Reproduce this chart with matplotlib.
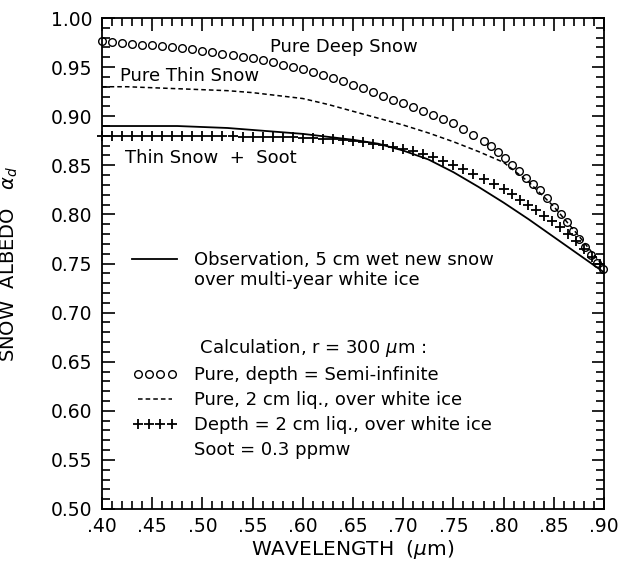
import numpy as np
import matplotlib.pyplot as plt
from matplotlib.lines import Line2D
from matplotlib.ticker import MultipleLocator, FuncFormatter

# observation, 5 cm wet new snow (solid line)
obs_wl = [0.400, 0.425, 0.450, 0.475, 0.500, 0.525, 0.550, 0.575, 0.600, 0.625, 0.650,
          0.675, 0.700, 0.725, 0.750, 0.775, 0.800, 0.825, 0.850, 0.875, 0.900]
obs_alb = [0.890, 0.890, 0.890, 0.890, 0.889, 0.888, 0.886, 0.884, 0.882, 0.879, 0.876,
           0.872, 0.865, 0.856, 0.843, 0.828, 0.812, 0.795, 0.777, 0.759, 0.741]

# pure thin snow, 2 cm liq. over white ice (dashed)
thin_wl = [0.400, 0.425, 0.450, 0.475, 0.500, 0.525, 0.550, 0.575, 0.600, 0.625, 0.650,
           0.675, 0.700, 0.725, 0.750, 0.775, 0.800, 0.825, 0.850, 0.875, 0.900]
thin_alb = [0.930, 0.930, 0.929, 0.928, 0.927, 0.926, 0.924, 0.921, 0.918, 0.912, 0.905,
            0.898, 0.891, 0.883, 0.874, 0.864, 0.853, 0.833, 0.808, 0.778, 0.746]

# pure deep snow, semi-infinite (circles)
deep_wl = [0.40, 0.41, 0.42, 0.43, 0.44, 0.45, 0.46, 0.47, 0.48, 0.49,
           0.50, 0.51, 0.52, 0.53, 0.54, 0.55, 0.56, 0.57, 0.58, 0.59,
           0.60, 0.61, 0.62, 0.63, 0.64, 0.65, 0.66, 0.67, 0.68, 0.69,
           0.70, 0.71, 0.72, 0.73, 0.74, 0.75, 0.76, 0.77, 0.78, 0.787,
           0.794, 0.801, 0.808, 0.815, 0.822, 0.829, 0.836, 0.843, 0.850, 0.857,
           0.863, 0.869, 0.875, 0.881, 0.887, 0.893, 0.899]
deep_alb = [0.977, 0.976, 0.975, 0.974, 0.973, 0.972, 0.971, 0.970, 0.969, 0.968,
            0.966, 0.965, 0.963, 0.962, 0.960, 0.959, 0.957, 0.955, 0.952, 0.950,
            0.948, 0.945, 0.942, 0.939, 0.936, 0.932, 0.929, 0.925, 0.921, 0.917,
            0.913, 0.909, 0.905, 0.901, 0.897, 0.893, 0.887, 0.881, 0.875, 0.870,
            0.864, 0.857, 0.850, 0.844, 0.837, 0.831, 0.825, 0.817, 0.808, 0.800,
            0.792, 0.783, 0.775, 0.767, 0.759, 0.751, 0.744]

# thin snow + soot 0.3 ppmw (pluses)
soot_wl = [0.40, 0.41, 0.42, 0.43, 0.44, 0.45, 0.46, 0.47, 0.48, 0.49,
           0.50, 0.51, 0.52, 0.53, 0.54, 0.55, 0.56, 0.57, 0.58, 0.59,
           0.60, 0.61, 0.62, 0.63, 0.64, 0.65, 0.66, 0.67, 0.68, 0.69,
           0.70, 0.71, 0.72, 0.73, 0.74, 0.75, 0.76, 0.77, 0.78, 0.79,
           0.80, 0.808, 0.816, 0.824, 0.832, 0.840, 0.848, 0.856, 0.864, 0.872,
           0.880, 0.888, 0.896]
soot_alb = [0.880, 0.880, 0.880, 0.880, 0.880, 0.880, 0.880, 0.880, 0.880, 0.880,
            0.880, 0.880, 0.880, 0.880, 0.879, 0.879, 0.879, 0.879, 0.879, 0.879,
            0.878, 0.878, 0.877, 0.877, 0.876, 0.875, 0.874, 0.872, 0.871, 0.869,
            0.867, 0.865, 0.862, 0.858, 0.854, 0.850, 0.846, 0.841, 0.836, 0.831,
            0.826, 0.821, 0.815, 0.810, 0.804, 0.798, 0.793, 0.787, 0.780, 0.773,
            0.765, 0.757, 0.749]

plt.rcParams['font.family'] = 'DejaVu Sans'
plt.rcParams['font.size'] = 13
plt.rcParams['mathtext.fontset'] = 'dejavusans'

fig = plt.figure(figsize=(6.22, 5.70), dpi=100)
ax = fig.add_axes([102 / 622, 61 / 570, 502 / 622, 491 / 570])

obs_line, = ax.plot(obs_wl, obs_alb, color='black', lw=1.3)
thin_line, = ax.plot(thin_wl, thin_alb, color='black', lw=1.1, ls=(0, (3, 2)))
deep_pts, = ax.plot(deep_wl, deep_alb, ls='none', marker='o', ms=5.5, mfc='none',
                    mec='black', mew=1.0, clip_on=False)
soot_pts, = ax.plot(soot_wl, soot_alb, ls='none', marker='+', ms=6.5, mec='black',
                    mew=1.3, clip_on=False)

ax.set_xlim(0.40, 0.90)
ax.set_ylim(0.50, 1.00)
ax.xaxis.set_major_locator(MultipleLocator(0.05))
ax.xaxis.set_minor_locator(MultipleLocator(0.01))
ax.yaxis.set_major_locator(MultipleLocator(0.05))
ax.yaxis.set_minor_locator(MultipleLocator(0.01))
ax.xaxis.set_major_formatter(FuncFormatter(lambda v, p: f'{v:.2f}'[1:]))
ax.yaxis.set_major_formatter(FuncFormatter(lambda v, p: f'{v:.2f}'))
ax.tick_params(which='both', direction='in', top=True, right=True, width=1.2)
ax.tick_params(which='major', length=9, labelsize=13.5)
ax.tick_params(axis='y', which='major', pad=7)
ax.tick_params(axis='x', which='major', pad=6)
ax.tick_params(which='minor', length=5.5)
for s in ax.spines.values():
    s.set_linewidth(1.3)

ax.set_xlabel('WAVELENGTH  ($\\mu$m)', fontsize=14.5)
ax.set_ylabel('SNOW  ALBEDO   $\\alpha_d$', fontsize=14)
ax.xaxis.set_label_coords(0.5, -0.06)
ax.yaxis.set_label_coords(-0.163, 0.5)

ax.text(0.567, 0.970, 'Pure Deep Snow', va='center', ha='left', fontsize=13)
ax.text(0.418, 0.941, 'Pure Thin Snow', va='center', ha='left', fontsize=13)
ax.text(0.423, 0.857, 'Thin Snow  +  Soot', va='center', ha='left', fontsize=13)

blank = Line2D([], [], ls='none', marker='none')
leg1 = ax.legend([obs_line, blank],
                 ['Observation, 5 cm wet new snow', 'over multi-year white ice'],
                 loc='upper left', bbox_to_anchor=(0.06, 0.525), frameon=False,
                 borderpad=0, borderaxespad=0, handlelength=2.5, handletextpad=0.9,
                 labelspacing=0.12, fontsize=13)
ax.add_artist(leg1)
ax.legend([blank, deep_pts, thin_line, soot_pts, blank],
          [' Calculation, r = 300 $\\mu$m :', 'Pure, depth = Semi-infinite',
           'Pure, 2 cm liq., over white ice', 'Depth = 2 cm liq., over white ice',
           'Soot = 0.3 ppmw'],
          loc='upper left', bbox_to_anchor=(0.06, 0.350), frameon=False, numpoints=4,
          borderpad=0, borderaxespad=0, handlelength=2.5, handletextpad=0.9,
          labelspacing=0.39, fontsize=13)

fig.savefig('out.png', dpi=100)
